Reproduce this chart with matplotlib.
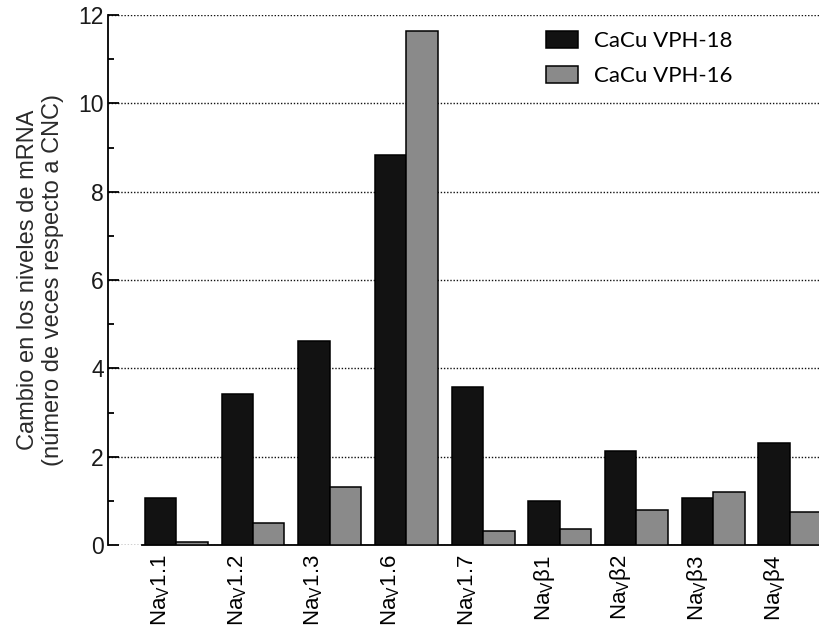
import numpy as np
import matplotlib
matplotlib.use("Agg")
import matplotlib.pyplot as plt

# values
CATEGORIES = ["Na$_\\mathrm{V}$1.1", "Na$_\\mathrm{V}$1.2", "Na$_\\mathrm{V}$1.3",
              "Na$_\\mathrm{V}$1.6", "Na$_\\mathrm{V}$1.7", "Na$_\\mathrm{V}$β1",
              "Na$_\\mathrm{V}$β2", "Na$_\\mathrm{V}$β3", "Na$_\\mathrm{V}$β4"]
VPH18 = [1.06, 3.41, 4.63, 8.82, 3.57, 1.00, 2.13, 1.06, 2.30]
VPH16 = [0.06, 0.50, 1.32, 11.64, 0.32, 0.36, 0.80, 1.19, 0.75]
LABELS = ["CaCu VPH-18", "CaCu VPH-16"]

TICKLBLSIZE = 16.5
XLBLSIZE = 16
AXISLBLSIZE = 17
LEGENDSIZE = 16

plt.rcParams['font.family'] = ['Liberation Sans', 'DejaVu Sans']
plt.rcParams['mathtext.fontset'] = 'custom'
plt.rcParams['mathtext.rm'] = 'Liberation Sans'
plt.rcParams['mathtext.it'] = 'Liberation Sans'
plt.rcParams['mathtext.sf'] = 'Liberation Sans'

fig = plt.figure(figsize=(8.19, 6.26), dpi=100)
ax = fig.add_axes([108 / 819, 1 - 545 / 626, 1 - 108 / 819, (545 - 15) / 626])

x = np.arange(len(CATEGORIES))
w = 0.41
ax.bar(x - w / 2, VPH18, width=w, color="#121212", edgecolor="black", linewidth=1.1,
       label=LABELS[0], zorder=3)
ax.bar(x + w / 2, VPH16, width=w, color="#8a8a8a", edgecolor="black", linewidth=1.1,
       label=LABELS[1], zorder=3)

ax.set_xlim(-0.89, 8.38)
ax.set_ylim(0, 12)

ax.set_yticks(range(0, 13, 2))
ax.set_yticks(range(1, 12, 2), minor=True)
ax.tick_params(axis='y', which='major', direction='in', length=8, width=1.3,
               labelsize=TICKLBLSIZE, pad=3, labelcolor="#1a1a1a")
ax.tick_params(axis='y', which='minor', direction='in', length=4, width=1.3)
ax.yaxis.grid(True, which='major', linestyle=(0, (1, 1.3)), linewidth=1.0, color="#111111")
ax.set_axisbelow(True)

ax.set_xticks(x - w / 2)
ax.set_xticklabels(CATEGORIES, rotation=90, size=XLBLSIZE)
ax.tick_params(axis='x', length=0, pad=7)

for s in ["top", "right"]:
    ax.spines[s].set_visible(False)
ax.spines["left"].set_linewidth(1.3)
ax.spines["bottom"].set_linewidth(1.3)
ax.spines["bottom"].set_bounds(-0.45, 8.38)

ax.set_ylabel("Cambio en los niveles de mRNA\n(número de veces respecto a CNC)",
              size=AXISLBLSIZE, labelpad=10, color="#2a2a2a")

ax.legend(loc="upper left", bbox_to_anchor=(546 / 819, 1 - 31 / 626),
          bbox_transform=fig.transFigure, frameon=False, borderpad=0, borderaxespad=0,
          handlelength=1.44, handleheight=0.77, handletextpad=0.72, labelspacing=0.68,
          prop={'family': 'Lato', 'size': LEGENDSIZE})

plt.savefig("out.png", dpi=100)
plt.close()
